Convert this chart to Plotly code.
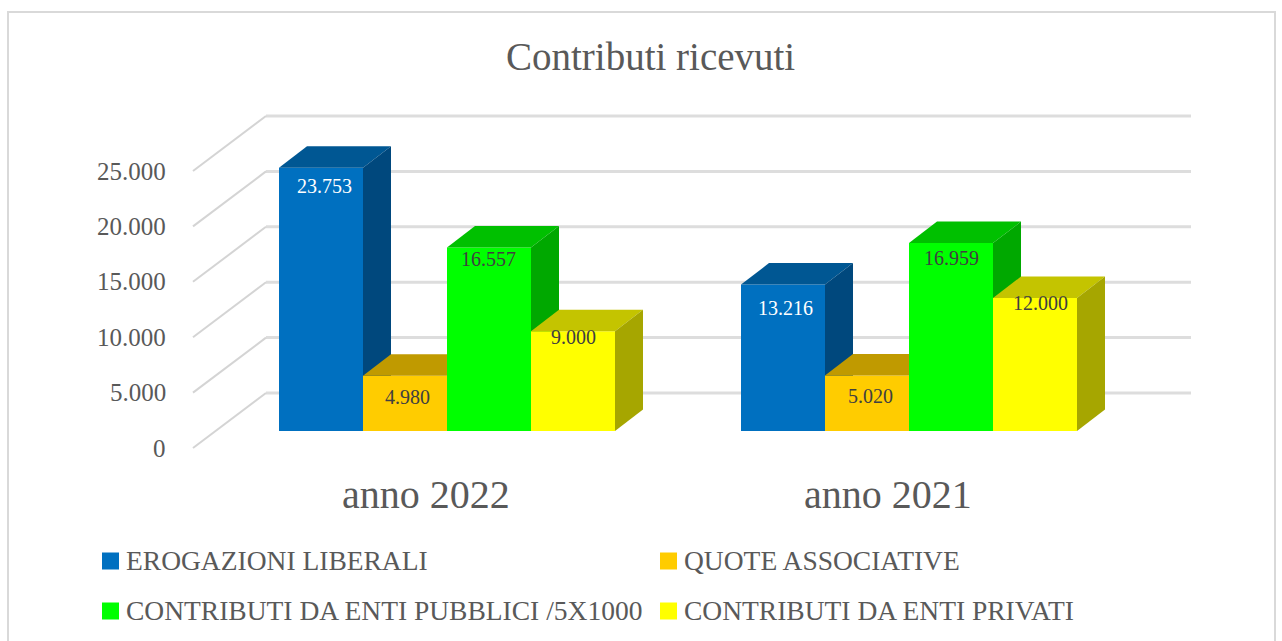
import plotly.graph_objects as go

# --- data ---
title = "Contributi ricevuti"
categories = ["anno 2022", "anno 2021"]
series_names = ["EROGAZIONI LIBERALI", "QUOTE ASSOCIATIVE",
                "CONTRIBUTI DA ENTI PUBBLICI /5X1000", "CONTRIBUTI DA ENTI PRIVATI"]
erogazioni = [23753, 13216]
quote = [4980, 5020]
pubblici = [16557, 16959]
privati = [9000, 12000]
y_ticks = [0, 5000, 10000, 15000, 20000, 25000]

# --- styles ---
front = ["#0070C0", "#FFCC00", "#00FF00", "#FFFF00"]
top = ["#005793", "#C09A00", "#00C000", "#C4C400"]
side = ["#00487D", "#A88600", "#00A800", "#A6A600"]
label_col = ["#FFFFFF", "#404040", "#404040", "#404040"]
W, H = 1282, 641
X0, BAR, Y0, K = 447, 84, 431, 277 / 25000
GROUP = [0, 5.5]
DX, DY = 28 / BAR, 21.5 / K
BACK, FRONT = 38 / K, -17 / K
X_RANGE = [-X0 / BAR, (W - X0) / BAR]
Y_RANGE = [-(H - Y0) / K, Y0 / K]
GREY = "#595959"
FONT = "Liberation Serif"
# small per-label nudges, in (px right, px below bar top)
label_dx = [[3, 2, -1, 0], [2, 3, 0, 5]]
label_dy = [[18, 21, 11, 6], [23, 21, 15, 5]]
values = [erogazioni, quote, pubblici, privati]


def ux(px):
    return (px - X0) / BAR


def fmt(v):
    return f"{v:,}".replace(",", ".")


fig = go.Figure()

# gridlines: wall + floor diagonal
for t in y_ticks:
    fig.add_trace(go.Scatter(x=[ux(266), ux(1191)], y=[t + BACK, t + BACK], mode="lines",
                             line=dict(color="#DDDDDD", width=3), hoverinfo="skip", showlegend=False))
    fig.add_trace(go.Scatter(x=[ux(193), ux(266)], y=[t + FRONT, t + BACK], mode="lines",
                             line=dict(color="#D4D4D4", width=2), hoverinfo="skip", showlegend=False))

# bars: each series on its own overlaid axes so that it paints over the previous one's side
layout_axes = {}
for s, vals in enumerate(values):
    n = s + 2
    xa, ya = f"x{n}", f"y{n}"
    xs = [g + s - 1.5 for g in GROUP]
    fig.add_trace(go.Bar(x=xs, y=vals, width=1, name=series_names[s], xaxis=xa, yaxis=ya,
                         marker=dict(color=front[s], line=dict(width=0)), showlegend=False))
    for x, v in zip(xs, vals):
        l, r = x - 0.5, x + 0.5
        fig.add_trace(go.Scatter(x=[l, r, r + DX, l + DX, l], y=[v, v, v + DY, v + DY, v],
                                 mode="lines", fill="toself", fillcolor=top[s], line=dict(width=0),
                                 xaxis=xa, yaxis=ya, hoverinfo="skip", showlegend=False))
        fig.add_trace(go.Scatter(x=[r, r + DX, r + DX, r, r], y=[0, DY, v + DY, v, 0],
                                 mode="lines", fill="toself", fillcolor=side[s], line=dict(width=0),
                                 xaxis=xa, yaxis=ya, hoverinfo="skip", showlegend=False))
    layout_axes[f"xaxis{n}"] = dict(range=X_RANGE, visible=False, overlaying="x", fixedrange=True)
    layout_axes[f"yaxis{n}"] = dict(range=Y_RANGE, visible=False, overlaying="y", fixedrange=True)

annotations = []


def txt(x, y, text, size, color=GREY, anchor="center", font=FONT):
    annotations.append(dict(x=x, y=y, xref="x", yref="y", text=text, showarrow=False, xanchor=anchor,
                            yanchor="middle", font=dict(family=font, size=size, color=color)))


# data labels
for s, vals in enumerate(values):
    for g, v in enumerate(vals):
        txt(GROUP[g] + s - 1.5 + label_dx[g][s] / BAR, v - label_dy[g][s] / K, fmt(v), 20, label_col[s])

# value axis labels
for t in y_ticks:
    txt(ux(168), t + FRONT, fmt(t), 25, anchor="right")

# category labels
for g, c in enumerate(categories):
    txt(GROUP[g] + ux(425.5), -(494 - Y0) / K, c, 40)

# title
txt(ux(650), (Y0 - 56) / K, title, 39)

# legend
leg_pos = [(102, 561), (660, 561), (102, 611), (660, 611)]
for s, (lx, ly) in enumerate(leg_pos):
    fig.add_trace(go.Scatter(x=[ux(lx + 8.5)], y=[(Y0 - ly) / K], mode="markers",
                             marker=dict(symbol="square", size=17, color=front[s]),
                             hoverinfo="skip", showlegend=False))
    txt(ux(lx + 22), (Y0 - ly + 1) / K, series_names[s], 27.5, anchor="left")

fig.update_layout(
    width=W, height=H, margin=dict(l=0, r=0, t=0, b=0),
    paper_bgcolor="white", plot_bgcolor="white", barmode="overlay", showlegend=False,
    xaxis=dict(range=X_RANGE, visible=False, fixedrange=True),
    yaxis=dict(range=Y_RANGE, visible=False, fixedrange=True),
    annotations=annotations,
    shapes=[dict(type="rect", xref="paper", yref="paper", x0=8 / W, x1=1275 / W, y0=-0.01, y1=1 - 12 / H,
                 line=dict(color="#D9D9D9", width=2))],
    **layout_axes,
)
fig.write_html("out.html", config={"displayModeBar": False},
               post_script="document.body.style.margin='0';document.body.style.overflow='hidden';")
